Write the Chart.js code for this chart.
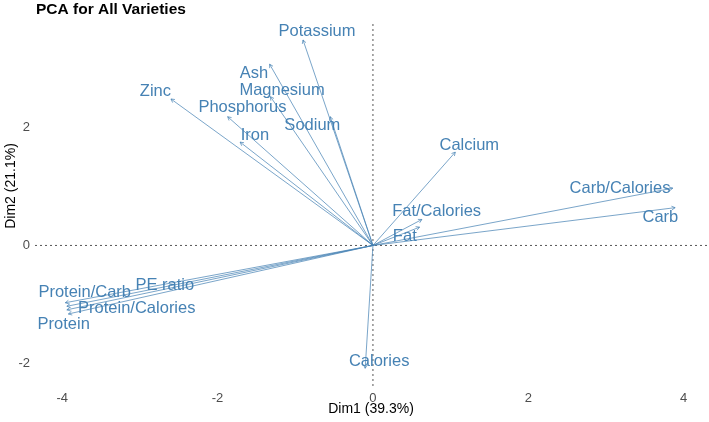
<!DOCTYPE html>
<html>
<head>
<meta charset="utf-8">
<script src="https://cdn.jsdelivr.net/npm/chart.js@4"></script>
<style>
  html, body { margin: 0; padding: 0; background: #fff; }
  #wrap { width: 709px; height: 422px; }
</style>
</head>
<body>
<div id="wrap"><canvas id="pcaChart" width="709" height="422"></canvas></div>
<script>
// variable loadings on the first two dimensions
var varNames = ["Potassium", "Ash", "Magnesium", "Zinc", "Phosphorus", "Iron", "Sodium",
    "Calcium", "Carb/Calories", "Carb", "Fat/Calories", "Fat",
    "Protein/Carb", "PE ratio", "Protein/Calories", "Protein", "Calories"];
var dim1 = [-0.90, -1.33, -1.32, -2.60, -1.87, -1.71, -0.55,
    1.06, 3.86, 3.89, 0.63, 0.60,
    -3.96, -3.94, -3.94, -3.92, -0.10];
var dim2 = [3.48, 3.07, 2.52, 2.48, 2.18, 1.75, 2.18,
    1.58, 0.97, 0.64, 0.44, 0.31,
    -0.97, -1.03, -1.09, -1.16, -2.08];

// where the (repelled) text labels sit, in the same units
var labelDim1 = [-0.72, -1.53, -1.17, -2.80, -1.68, -1.52, -0.78,
    1.24, 3.18, 3.70, 0.82, 0.41,
    -3.71, -2.68, -3.04, -3.98, 0.08];
var labelDim2 = [3.62, 2.92, 2.62, 2.60, 2.33, 1.87, 2.03,
    1.70, 0.97, 0.48, 0.57, 0.16,
    -0.79, -0.67, -1.06, -1.33, -1.97];

var xTicks = [-4, -2, 0, 2, 4];
var yTicks = [-2, 0, 2];

var chartTitle = "PCA for All Varieties";
var xTitle = "Dim1 (39.3%)";
var yTitle = "Dim2 (21.1%)";

var arrowColor = "rgba(70,130,180,0.8)";
var labelColor = "#4682B4";
var fontFamily = "'Liberation Sans', Arial, sans-serif";

var datasets = varNames.map(function (name, i) {
    return {
        label: name,
        data: [{ x: 0, y: 0 }, { x: dim1[i], y: dim2[i] }],
        showLine: true,
        borderColor: arrowColor,
        borderWidth: 0.9,
        pointRadius: 0,
        fill: false
    };
});

var decorPlugin = {
    id: 'pcaDecor',
    beforeDatasetsDraw: function (chart) {
        var ctx = chart.ctx, a = chart.chartArea;
        var xs = chart.scales.x, ys = chart.scales.y;
        var x0 = xs.getPixelForValue(0), y0 = ys.getPixelForValue(0);
        ctx.save();
        ctx.strokeStyle = "#555";
        ctx.lineWidth = 1;
        ctx.setLineDash([2, 3]);
        ctx.beginPath();
        ctx.moveTo(a.left, y0); ctx.lineTo(a.right, y0);
        ctx.moveTo(x0, a.top); ctx.lineTo(x0, a.bottom);
        ctx.stroke();
        ctx.restore();
    },
    afterDatasetsDraw: function (chart) {
        var ctx = chart.ctx, a = chart.chartArea;
        var xs = chart.scales.x, ys = chart.scales.y;
        var x0 = xs.getPixelForValue(0), y0 = ys.getPixelForValue(0);
        ctx.save();
        // arrow heads
        ctx.strokeStyle = arrowColor;
        ctx.lineWidth = 0.9;
        varNames.forEach(function (name, i) {
            var tx = xs.getPixelForValue(dim1[i]), ty = ys.getPixelForValue(dim2[i]);
            var ang = Math.atan2(ty - y0, tx - x0);
            var len = 4;
            ctx.beginPath();
            ctx.moveTo(tx - len * Math.cos(ang - 0.5), ty - len * Math.sin(ang - 0.5));
            ctx.lineTo(tx, ty);
            ctx.lineTo(tx - len * Math.cos(ang + 0.5), ty - len * Math.sin(ang + 0.5));
            ctx.stroke();
        });
        // variable labels
        ctx.fillStyle = labelColor;
        ctx.font = "16.5px " + fontFamily;
        ctx.textAlign = "center";
        ctx.textBaseline = "middle";
        varNames.forEach(function (name, i) {
            ctx.fillText(name, xs.getPixelForValue(labelDim1[i]), ys.getPixelForValue(labelDim2[i]));
        });
        // titles
        ctx.fillStyle = "#000";
        ctx.font = "bold 15.5px " + fontFamily;
        ctx.textAlign = "left";
        ctx.fillText(chartTitle, 36, 10);
        ctx.font = "14px " + fontFamily;
        ctx.textAlign = "center";
        ctx.fillText(xTitle, (a.left + a.right) / 2, 409);
        ctx.translate(11, 186);
        ctx.rotate(-Math.PI / 2);
        ctx.fillText(yTitle, 0, 0);
        ctx.restore();
    }
};

var ctx = document.getElementById("pcaChart").getContext("2d");
var pcaChart = new Chart(ctx, {
    type: 'scatter',
    data: { datasets: datasets },
    options: {
        responsive: false,
        animation: false,
        layout: { padding: { top: 24, right: 2, left: 0, bottom: 0 } },
        plugins: {
            legend: { display: false },
            tooltip: { enabled: false },
            title: { display: false }
        },
        scales: {
            x: {
                type: 'linear',
                min: -4.35,
                max: 4.3,
                grid: { display: false, drawTicks: false },
                border: { display: false },
                afterBuildTicks: function (s) { s.ticks = xTicks.map(function (v) { return { value: v }; }); },
                afterFit: function (s) { s.height = 36; },
                ticks: { padding: 5, color: "#4d4d4d", font: { size: 13, family: fontFamily } }
            },
            y: {
                type: 'linear',
                min: -2.38,
                max: 3.75,
                grid: { display: false, drawTicks: false },
                border: { display: false },
                afterBuildTicks: function (s) { s.ticks = yTicks.map(function (v) { return { value: v }; }); },
                afterFit: function (s) { s.width = 35; },
                ticks: { padding: 5, color: "#4d4d4d", font: { size: 13, family: fontFamily } }
            }
        }
    },
    plugins: [decorPlugin]
});
</script>
</body>
</html>
